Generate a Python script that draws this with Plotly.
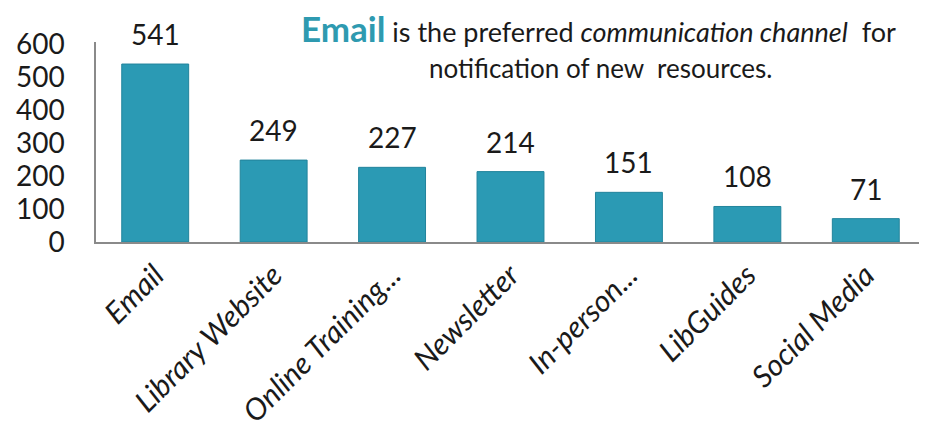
import plotly.graph_objects as go

categories = ["Email", "Library Website", "Online Training...", "Newsletter",
              "In-person...", "LibGuides", "Social Media"]
values = [541, 249, 227, 214, 151, 108, 71]
y_ticks = [0, 100, 200, 300, 400, 500, 600]

BAR = "#2B9AB4"
FONT = "Lato, 'Open Sans', sans-serif"

fig = go.Figure(go.Bar(
    x=categories, y=values,
    marker=dict(color=BAR, line=dict(color="#22849C", width=1)),
    hoverinfo="skip",
))

for c, v in zip(categories, values):
    fig.add_annotation(x=c, y=v, text=str(v), showarrow=False,
                       yanchor="bottom", yshift=11,
                       font=dict(family=FONT, size=28, color="#1a1a1a"))

# plot area: x 88..917, y 34..234 (figure coords)
fig.add_annotation(
    xref="paper", yref="paper", x=0.606, y=1.07, xanchor="center", yanchor="middle",
    showarrow=False,
    text=("<b><span style='color:#2E9AB0;font-size:35px'>Email</span></b> "
          "is the preferred <i>communication channel</i>  for"),
    font=dict(family=FONT, size=27, color="#1a1a1a"),
)
fig.add_annotation(
    xref="paper", yref="paper", x=0.608, y=0.87, xanchor="center", yanchor="middle",
    showarrow=False,
    text="notification of new  resources.",
    font=dict(family=FONT, size=26, color="#1a1a1a"),
)

fig.update_layout(
    width=919, height=419,
    margin=dict(l=88, r=2, t=34, b=185),
    paper_bgcolor="white", plot_bgcolor="white",
    bargap=0.435,
    showlegend=False,
    font=dict(family=FONT, color="#1a1a1a"),
)
fig.update_yaxes(
    range=[0, 608], tickvals=y_ticks, showgrid=False, zeroline=False,
    showline=True, linecolor="#8a8a8a", linewidth=1.5, automargin=False,
    ticks="", ticklabelstandoff=24,
    tickfont=dict(family=FONT, size=28, color="#1a1a1a"),
)
fig.update_xaxes(
    showline=True, linecolor="#8a8a8a", linewidth=1.5, ticks="", automargin=False,
    tickangle=-45, ticklabelstandoff=2,
    tickfont=dict(family=FONT, size=30, color="#1a1a1a", style="italic"),
)

fig.write_html("out.html")
